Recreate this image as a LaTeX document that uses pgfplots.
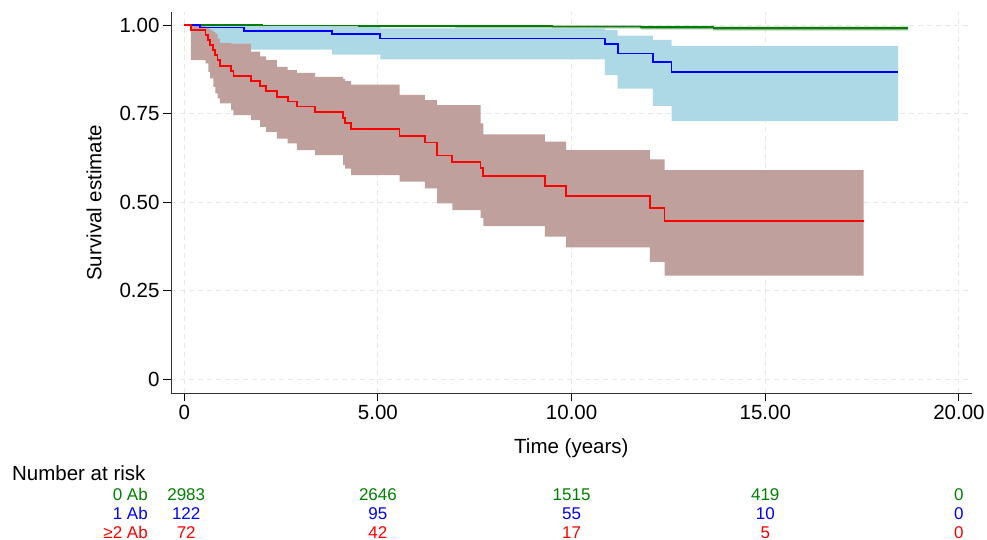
\documentclass[border=0pt]{standalone}
\usepackage{fontspec}
\setmainfont{Liberation Sans}
\usepackage{pgfplots}
\usepackage{pgfplotstable}
\pgfplotsset{compat=1.18}
\usepgfplotslibrary{fillbetween}
\definecolor{bandred}{RGB}{191,160,156}
\definecolor{bandblue}{RGB}{173,216,230}
\definecolor{bandgreen}{RGB}{140,178,140}
\definecolor{lgreen}{RGB}{0,128,0}

\pgfplotstableread{
t S lo hi
0.00 1.000 1.000 1.000
0.17 0.986 0.901 0.998
0.55 0.972 0.892 0.995
0.62 0.958 0.868 0.990
0.67 0.944 0.850 0.985
0.75 0.930 0.826 0.980
0.80 0.915 0.807 0.975
0.86 0.901 0.793 0.962
0.92 0.885 0.779 0.950
1.21 0.870 0.760 0.948
1.27 0.857 0.746 0.948
1.72 0.842 0.732 0.925
1.96 0.829 0.713 0.912
2.11 0.815 0.699 0.901
2.39 0.798 0.680 0.882
2.67 0.784 0.666 0.873
2.91 0.770 0.647 0.865
3.38 0.754 0.633 0.854
4.10 0.737 0.605 0.848
4.15 0.723 0.595 0.842
4.31 0.707 0.577 0.832
5.56 0.687 0.558 0.803
6.21 0.669 0.539 0.788
6.53 0.632 0.497 0.774
6.92 0.613 0.478 0.774
7.65 0.596 0.455 0.723
7.72 0.574 0.433 0.692
9.31 0.546 0.403 0.671
9.86 0.518 0.373 0.647
12.02 0.483 0.332 0.621
12.40 0.447 0.293 0.591
17.54 0.447 0.293 0.591
}\redt

\pgfplotstableread{
t S lo hi
0.00 1.000 1.000 1.000
0.41 0.993 0.946 0.999
1.54 0.984 0.931 0.997
3.81 0.974 0.917 0.994
5.06 0.962 0.903 0.991
10.86 0.946 0.859 0.986
11.19 0.920 0.821 0.970
12.10 0.896 0.772 0.958
12.58 0.867 0.729 0.941
18.43 0.867 0.729 0.941
}\bluet

\pgfplotstableread{
t S lo hi
0.00 1.000 0.998 1.000
2.00 0.999 0.996 1.000
4.50 0.998 0.994 1.000
7.00 0.997 0.993 0.999
9.50 0.996 0.991 0.999
11.79 0.994 0.988 0.998
13.66 0.991 0.985 0.996
18.69 0.991 0.985 0.996
}\greent

\begin{document}
\begin{tikzpicture}
\begin{axis}[
  at={(0pt,0pt)}, anchor=south west,
  scale only axis, width=800.7pt, height=381.3pt,
  xmin=-0.343, xmax=20.33, ymin=-0.039, ymax=1.037,
  axis x line*=bottom, axis y line*=left,
  axis line style={-, line width=0.9pt, black!80},
  xtick={0,5,10,15,20}, xticklabels={0,5.00,10.00,15.00,20.00},
  ytick={0,0.25,0.5,0.75,1}, yticklabels={0,0.25,0.50,0.75,1.00},
  tick align=outside, major tick length=8pt,
  tick style={black, line width=0.9pt},
  grid=major, major grid style={dashed, dash pattern=on 5pt off 4pt, gray!18, line width=0.9pt},
  ticklabel style={font=\fontsize{20.5}{24}\selectfont},
  label style={font=\fontsize{20.5}{24}\selectfont},
  xlabel={Time (years)},
  xlabel style={at={(axis description cs:0.5,0)}, anchor=center, yshift=-55pt},
  ylabel={Survival estimate},
  ylabel style={at={(axis description cs:0,0.5)}, anchor=center, yshift=77pt},
  clip=false,
]
% bands
\addplot[draw=none, const plot, name path=gh, forget plot] table[x=t,y=hi]{\greent};
\addplot[draw=none, const plot, name path=gl, forget plot] table[x=t,y=lo]{\greent};
\addplot[bandgreen, forget plot] fill between[of=gh and gl];
\addplot[draw=none, const plot, name path=bh, forget plot] table[x=t,y=hi]{\bluet};
\addplot[draw=none, const plot, name path=bl, forget plot] table[x=t,y=lo]{\bluet};
\addplot[bandblue, forget plot] fill between[of=bh and bl];
\addplot[draw=none, const plot, name path=rh, forget plot] table[x=t,y=hi]{\redt};
\addplot[draw=none, const plot, name path=rl, forget plot] table[x=t,y=lo]{\redt};
\addplot[bandred, forget plot] fill between[of=rh and rl];
% curves
\addplot[lgreen, line width=1.7pt, const plot, mark=none] table[x=t,y=S]{\greent};
\addplot[blue, line width=1.7pt, const plot, mark=none] table[x=t,y=S]{\bluet};
\addplot[red, line width=1.7pt, const plot, mark=none] table[x=t,y=S]{\redt};
% number at risk
\node[font=\fontsize{20.5}{24}\selectfont, inner sep=0pt, anchor=base west] at (axis cs:-4.45,0) [yshift=-101.5pt] {Number at risk};
\node[font=\fontsize{17}{20}\selectfont, inner sep=0pt, anchor=base east, text=lgreen] at (axis cs:-0.937,0) [yshift=-121.2pt] {0 Ab};
\node[font=\fontsize{17}{20}\selectfont, inner sep=0pt, anchor=base east, text=blue] at (axis cs:-0.937,0) [yshift=-140.5pt] {1 Ab};
\node[font=\fontsize{17}{20}\selectfont, inner sep=0pt, anchor=base east, text=red] at (axis cs:-0.937,0) [yshift=-158.8pt] {≥2 Ab};
\node[font=\fontsize{17}{20}\selectfont, inner sep=0pt, anchor=base, text=lgreen] at (axis cs:0.05,0) [yshift=-121.2pt] {2983};
\node[font=\fontsize{17}{20}\selectfont, inner sep=0pt, anchor=base, text=lgreen] at (axis cs:5,0) [yshift=-121.2pt] {2646};
\node[font=\fontsize{17}{20}\selectfont, inner sep=0pt, anchor=base, text=lgreen] at (axis cs:10,0) [yshift=-121.2pt] {1515};
\node[font=\fontsize{17}{20}\selectfont, inner sep=0pt, anchor=base, text=lgreen] at (axis cs:15,0) [yshift=-121.2pt] {419};
\node[font=\fontsize{17}{20}\selectfont, inner sep=0pt, anchor=base, text=lgreen] at (axis cs:20,0) [yshift=-121.2pt] {0};
\node[font=\fontsize{17}{20}\selectfont, inner sep=0pt, anchor=base, text=blue] at (axis cs:0.05,0) [yshift=-140.5pt] {122};
\node[font=\fontsize{17}{20}\selectfont, inner sep=0pt, anchor=base, text=blue] at (axis cs:5,0) [yshift=-140.5pt] {95};
\node[font=\fontsize{17}{20}\selectfont, inner sep=0pt, anchor=base, text=blue] at (axis cs:10,0) [yshift=-140.5pt] {55};
\node[font=\fontsize{17}{20}\selectfont, inner sep=0pt, anchor=base, text=blue] at (axis cs:15,0) [yshift=-140.5pt] {10};
\node[font=\fontsize{17}{20}\selectfont, inner sep=0pt, anchor=base, text=blue] at (axis cs:20,0) [yshift=-140.5pt] {0};
\node[font=\fontsize{17}{20}\selectfont, inner sep=0pt, anchor=base, text=red] at (axis cs:0.05,0) [yshift=-158.8pt] {72};
\node[font=\fontsize{17}{20}\selectfont, inner sep=0pt, anchor=base, text=red] at (axis cs:5,0) [yshift=-158.8pt] {42};
\node[font=\fontsize{17}{20}\selectfont, inner sep=0pt, anchor=base, text=red] at (axis cs:10,0) [yshift=-158.8pt] {17};
\node[font=\fontsize{17}{20}\selectfont, inner sep=0pt, anchor=base, text=red] at (axis cs:15,0) [yshift=-158.8pt] {5};
\node[font=\fontsize{17}{20}\selectfont, inner sep=0pt, anchor=base, text=red] at (axis cs:20,0) [yshift=-158.8pt] {0};
\end{axis}
\pgfresetboundingbox
\path (-171pt,-146.7pt) rectangle (816pt,393.3pt);
\end{tikzpicture}
\end{document}
